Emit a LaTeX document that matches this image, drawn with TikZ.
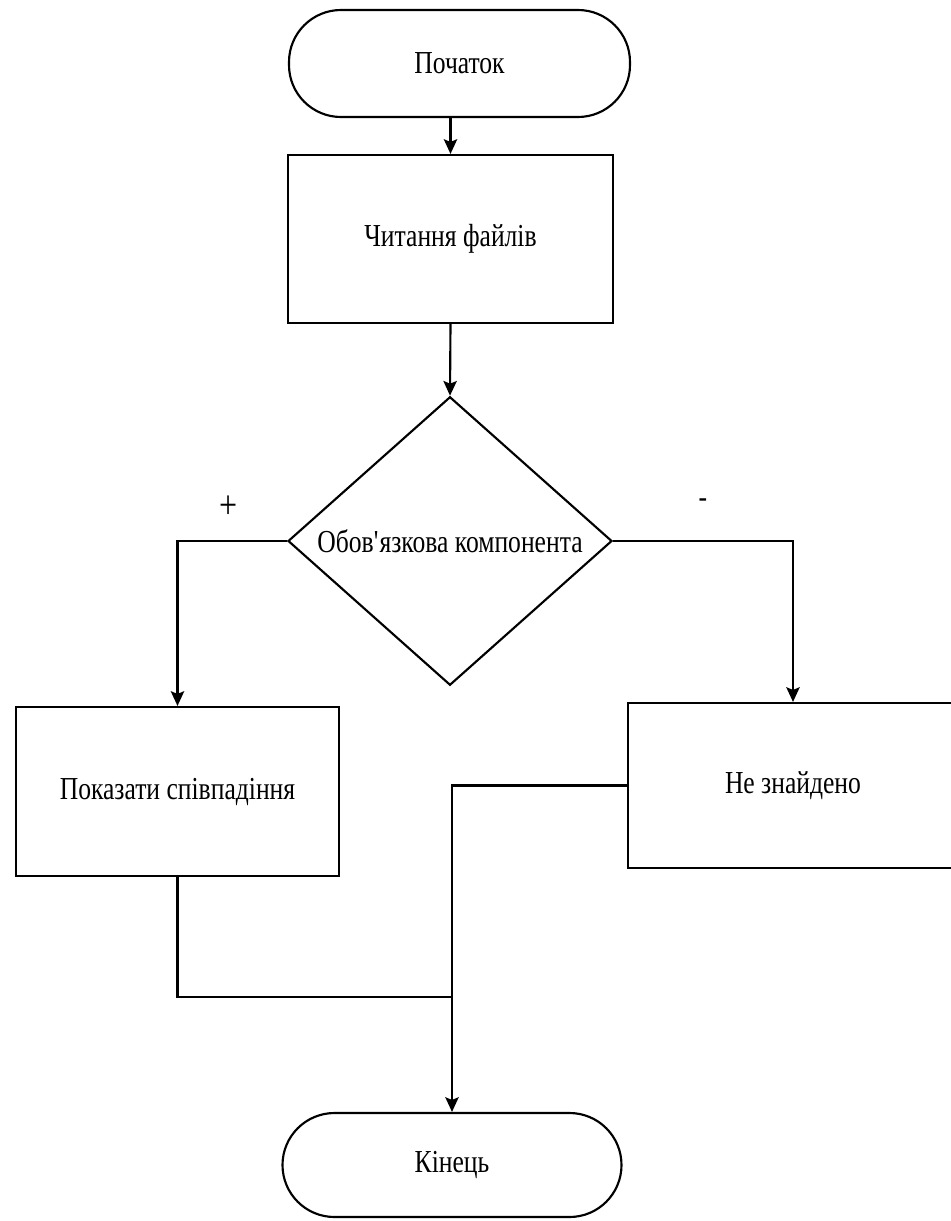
\documentclass[tikz,border=0pt]{standalone}
\usepackage{fontspec}
\setmainfont{Liberation Serif}[FakeStretch=0.8]
\usetikzlibrary{shapes.geometric,arrows.meta}

\begin{document}
\begin{tikzpicture}[x=0.75pt, y=-0.75pt, line join=miter,
  every node/.style={font=\fontsize{24}{28}\selectfont},
  terminal/.style={draw, line width=1.6pt, rectangle, rounded corners=39pt, inner sep=0pt},
  process/.style={draw, line width=1.6pt, rectangle, inner sep=0pt},
  decision/.style={draw, line width=1.6pt, diamond, inner sep=0pt},
  branch/.style={font=\fontsize{30}{30}\selectfont},
  line/.style={line width=1.6pt},
  arr/.style={line width=1.6pt, -{Stealth[length=11pt, width=10pt, inset=2pt]}}]
  % --- Рамка (розмір як у зразку) ---
  \useasboundingbox (0,0) rectangle (950,1221);

  % --- Блоки ---
  \node[terminal, minimum width=255.75pt, minimum height=80.25pt] (start) at (459.5,63.5) {Початок};
  \node[process, minimum width=243.75pt, minimum height=126pt] (read) at (450.5,239) {Читання файлів};
  \node[decision, minimum width=243pt, minimum height=211pt] (check) at (450,541) {Обов\textquotesingle язкова компонента};
  \node[process, minimum width=242.25pt, minimum height=126.75pt] (yes) at (177.5,791.5) {Показати співпадіння};
  \node[process, minimum width=247.5pt, minimum height=123.75pt] (no) at (793,785.5) {Не знайдено};
  \node[terminal, minimum width=254.25pt, minimum height=78pt] (end) at (452,1165) {Кінець};

  % --- Мітки гілок ---
  \node[branch] (plus) at (229,507) {+};
  \node (minus) at (703,503) {-};

  % --- Зʼєднання ---
  \coordinate (merge) at (452,997);
  \draw[arr] (read.north |- start.south) -- (read.north);
  \draw[arr] (read.south) -- (check.north);
  \draw[arr] (check.west) -| (yes.north);
  \draw[arr] (check.east) -| (no.north);
  \draw[line] (yes.south) |- (merge);
  \draw[arr] (no.west) -| (end.north);
\end{tikzpicture}
\end{document}
